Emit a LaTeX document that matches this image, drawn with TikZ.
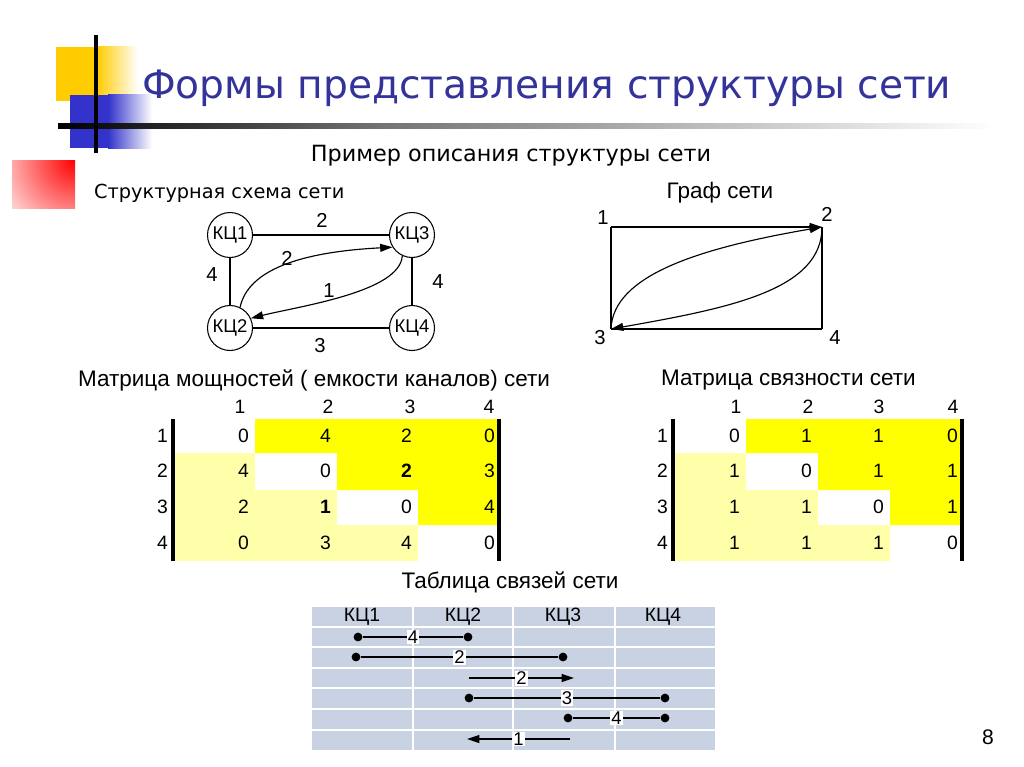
\documentclass[tikz,border=0pt]{standalone}
\usepackage{fontspec}
\setmainfont{Liberation Sans}
\newfontfamily\headfont{DejaVu Sans}
\usepackage{xcolor}
\usetikzlibrary{positioning,arrows.meta}

\definecolor{titleblue}{RGB}{51,51,153}
\definecolor{decoyellow}{RGB}{255,204,0}
\definecolor{decoblue}{RGB}{51,51,204}
\definecolor{cellhi}{RGB}{255,255,0}
\definecolor{celllo}{RGB}{255,255,170}
\definecolor{tablefill}{RGB}{201,210,227}

\begin{document}
\begin{tikzpicture}[
        x=0.02cm, y=-0.02cm,
        every node/.style={inner sep=1pt},
        kc/.style={circle, draw, line width=0.6pt, minimum size=0.9cm, inner sep=0pt, font=\fontsize{10.5}{12}\selectfont},
        elbl/.style={font=\fontsize{11.5}{13}\selectfont},
        heading/.style={font=\fontsize{12.8}{15}\selectfont},
        num/.style={anchor=east, font=\fontsize{11}{13}\selectfont},
        colnum/.style={font=\fontsize{11}{13}\selectfont},
        bar/.style={line width=2.3pt},
        link/.style={line width=0.65pt},
        arr/.style={line width=0.65pt, -{Triangle[length=7pt, width=4.5pt]}},
        dot/.style={circle, fill, inner sep=0pt, minimum size=5pt},
        tlbl/.style={fill=white, inner sep=0.6pt, font=\fontsize{10.5}{12}\selectfont},
        grid/.style={white, line width=1.2pt}
    ]
    \useasboundingbox (0,0) rectangle (1024,767);

    % decoration
    \fill[decoyellow] (56,47) rectangle (97,101);
    \shade[left color=decoyellow, right color=white] (97,47) rectangle (138,101);
    \fill[decoblue] (70,95) rectangle (108,148);
    \shade[left color=decoblue, right color=white] (108,95) rectangle (152,148);
    \shade[left color=black, right color=black!55] (58,124) rectangle (380,128);
    \shade[left color=black!55, right color=white] (380,124) rectangle (995,128);
    \fill[black] (94,35) rectangle (98,153);
    \begin{scope}
        \clip (12,160) rectangle (75,208);
        \shade[inner color=red, outer color=white] (75,160) circle (95);
    \end{scope}

    \node[anchor=west, text=titleblue, font=\headfont\fontsize{22.3}{26}\selectfont] (title) at (140,88) {Формы представления структуры сети};
    \node[font=\headfont\fontsize{12.7}{15}\selectfont] (sub) at (511,156) {Пример описания структуры сети};

    % structural scheme
    \node[anchor=west, font=\headfont\fontsize{11}{13}\selectfont] (schemehd) at (92,193) {Структурная схема сети};
    \node[kc] (kc1) at (230,235) {КЦ1};
    \node[kc] (kc3) at (412,235) {КЦ3};
    \node[kc] (kc2) at (230,328) {КЦ2};
    \node[kc] (kc4) at (412,328) {КЦ4};
    \draw[link] (kc1) -- (kc3);
    \draw[link] (kc1) -- (kc2);
    \draw[link] (kc3) -- (kc4);
    \draw[link] (kc2) -- (kc4);
    \draw[arr] (kc2.64) .. controls (248,270) and (300,252) .. (kc3.212);
    \draw[arr] (kc3.245) .. controls (400,292) and (300,306) .. (kc2.25);
    \node[elbl] (l12) at (322,220) {2};
    \node[elbl] (l14) at (212,275) {4};
    \node[elbl] (l34) at (438,282) {4};
    \node[elbl] (l24) at (320,346) {3};
    \node[elbl] (lc2) at (287,258) {2};
    \node[elbl] (lc1) at (329,291) {1};

    % graph
    \node[heading] (graphhd) at (720,193) {Граф сети};
    \coordinate (g1) at (611,227);
    \coordinate (g2) at (822,227);
    \coordinate (g3) at (611,329);
    \coordinate (g4) at (822,329);
    \draw[arr] (g1) -- (g2);
    \draw[link] (g1) -- (g3);
    \draw[link] (g2) -- (g4);
    \draw[link] (g3) -- (g4);
    \draw[arr] (g3) .. controls (613,275) and (700,248) .. (g2);
    \draw[arr] (g2) .. controls (822,290) and (730,308) .. (g3);
    \node[elbl] (gl1) at (603,218) {1};
    \node[elbl] (gl2) at (827,214) {2};
    \node[elbl] (gl3) at (600,338) {3};
    \node[elbl] (gl4) at (835,338) {4};

    % capacity matrix
    \node[anchor=west, heading] (caphd) at (76,380) {Матрица мощностей ( емкости каналов) сети};
    \fill[cellhi] (255,419) -- (499,419) -- (499,525) -- (418,525) -- (418,490) -- (337,490) -- (337,453) -- (255,453) -- cycle;
    \fill[celllo] (174,453) -- (255,453) -- (255,490) -- (337,490) -- (337,525) -- (418,525) -- (418,561) -- (174,561) -- cycle;
    \draw[bar] (173,419) -- (173,561);
    \draw[bar] (499,419) -- (499,561);
    \foreach \c/\x in {1/240, 2/328, 3/410, 4/489}
        \node[colnum] (ph-\c) at (\x,407) {\c};
    \foreach \r/\y/\a/\b/\c/\d in {1/436/0/4/2/0, 2/471/4/0/{\textbf{2}}/3, 3/507/2/{\textbf{1}}/0/4, 4/543/0/3/4/0} {
        \node[num] (pr-\r) at (170,\y) {\r};
        \node[num] (p-\r-1) at (251,\y) {\a};
        \node[num] (p-\r-2) at (333,\y) {\b};
        \node[num] (p-\r-3) at (414,\y) {\c};
        \node[num] (p-\r-4) at (497,\y) {\d};
    }

    % connectivity matrix
    \node[anchor=west, heading] (conhd) at (659,380) {Матрица связности сети};
    \fill[cellhi] (746,419) -- (962,419) -- (962,525) -- (890,525) -- (890,490) -- (818,490) -- (818,453) -- (746,453) -- cycle;
    \fill[celllo] (673,453) -- (746,453) -- (746,490) -- (818,490) -- (818,525) -- (890,525) -- (890,561) -- (673,561) -- cycle;
    \draw[bar] (673,419) -- (673,561);
    \draw[bar] (962,419) -- (962,561);
    \foreach \c/\x in {1/736, 2/808, 3/879, 4/953}
        \node[colnum] (ch-\c) at (\x,407) {\c};
    \foreach \r/\y/\a/\b/\c/\d in {1/436/0/1/1/0, 2/471/1/0/1/1, 3/507/1/1/0/1, 4/543/1/1/1/0} {
        \node[num] (cr-\r) at (670,\y) {\r};
        \node[num] (c-\r-1) at (742,\y) {\a};
        \node[num] (c-\r-2) at (814,\y) {\b};
        \node[num] (c-\r-3) at (886,\y) {\c};
        \node[num] (c-\r-4) at (960,\y) {\d};
    }

    % link table
    \node[heading] (tabhd) at (510,582) {Таблица связей сети};
    \fill[tablefill] (312,607) rectangle (715,750);
    \foreach \x in {413, 513, 615}
        \draw[grid] (\x,607) -- (\x,750);
    \foreach \y in {627, 647, 668, 688, 709, 730}
        \draw[grid] (312,\y) -- (715,\y);
    \foreach \k/\x in {1/362, 2/463, 3/563, 4/663}
        \node[colnum] (tk-\k) at (\x,617) {КЦ\k};
    \node[dot] (r1a) at (358,637) {};
    \node[dot] (r1b) at (468,637) {};
    \draw[link] (r1a) -- node[tlbl] {4} (r1b);
    \node[dot] (r2a) at (356,657) {};
    \node[dot] (r2b) at (563,657) {};
    \draw[link] (r2a) -- node[tlbl] {2} (r2b);
    \coordinate (r3a) at (469,678);
    \coordinate (r3b) at (574,678);
    \draw[arr] (r3a) -- node[tlbl] {2} (r3b);
    \node[dot] (r4a) at (469,698) {};
    \node[dot] (r4b) at (665,698) {};
    \draw[link] (r4a) -- node[tlbl] {3} (r4b);
    \node[dot] (r5a) at (568,718) {};
    \node[dot] (r5b) at (665,718) {};
    \draw[link] (r5a) -- node[tlbl] {4} (r5b);
    \coordinate (r6a) at (570,739);
    \coordinate (r6b) at (467,739);
    \draw[arr] (r6a) -- node[tlbl] {1} (r6b);

    \node[font=\fontsize{12}{14}\selectfont] (page) at (988,737) {8};
\end{tikzpicture}
\end{document}
